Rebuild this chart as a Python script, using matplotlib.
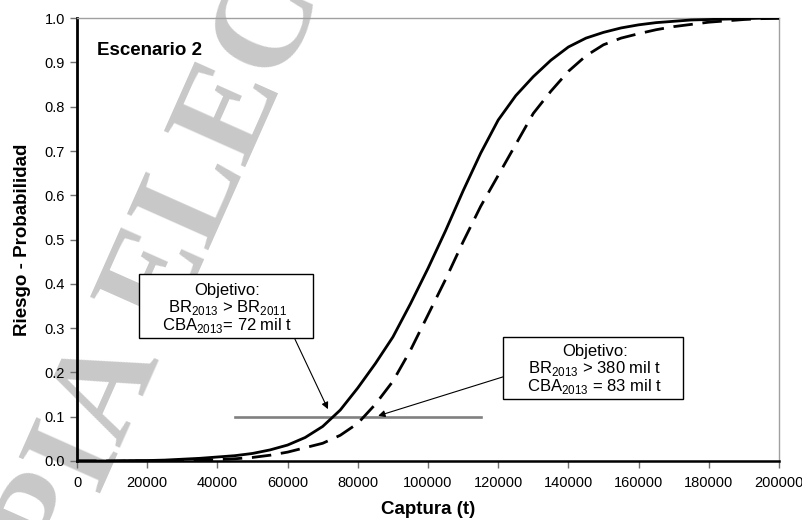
import matplotlib
matplotlib.use("Agg")
import matplotlib.pyplot as plt
from matplotlib.patches import Rectangle

plt.rcParams['font.family'] = ['Liberation Sans', 'DejaVu Sans']

# captura (t) y probabilidad de riesgo
captura = [0, 5000, 10000, 15000, 20000, 25000, 30000, 35000, 40000, 45000,
           50000, 55000, 60000, 65000, 70000, 75000, 80000, 85000, 90000, 95000,
           100000, 105000, 110000, 115000, 120000, 125000, 130000, 135000, 140000, 145000,
           150000, 155000, 160000, 165000, 170000, 175000, 180000, 185000, 190000, 195000,
           200000]
riesgo_br2011 = [0.0, 0.0, 0.0, 0.001, 0.001, 0.002, 0.004, 0.006, 0.009, 0.012,
                 0.017, 0.025, 0.036, 0.053, 0.078, 0.115, 0.165, 0.22, 0.28, 0.355,
                 0.435, 0.52, 0.61, 0.695, 0.77, 0.825, 0.868, 0.905, 0.935, 0.955,
                 0.968, 0.978, 0.985, 0.99, 0.993, 0.996, 0.997, 0.998, 0.999, 1.0,
                 1.0]
riesgo_br380 = [0.0, 0.0, 0.0, 0.0, 0.0, 0.001, 0.001, 0.002, 0.003, 0.005,
                0.008, 0.013, 0.02, 0.03, 0.04, 0.058, 0.085, 0.128, 0.18, 0.25,
                0.33, 0.41, 0.495, 0.575, 0.645, 0.715, 0.785, 0.835, 0.88, 0.915,
                0.94, 0.955, 0.965, 0.974, 0.981, 0.986, 0.991, 0.994, 0.997, 0.999,
                1.0]
nivel_x = [45000, 115000]
nivel_y = [0.1, 0.1]

fig = plt.figure(figsize=(8.03, 5.2), dpi=100)

# marca de agua
fig.text(0.315, 0.863, "COPIA ELECTRÓNICA", family=['Liberation Serif', 'DejaVu Serif'],
         fontsize=98, fontweight='bold', color='#c8c8c8', rotation=66,
         rotation_mode='anchor', ha='center', va='center', zorder=-1)

ax = fig.add_axes([0.0959, 0.1135, 0.8742, 0.8515])
ax.set_facecolor('none')

ax.plot(nivel_x, nivel_y, color='#808080', lw=1.9, zorder=2)
ax.plot(captura, riesgo_br2011, color='black', lw=2.0, zorder=3)
ax.plot(captura, riesgo_br380, color='black', lw=2.0, ls=(0, (7, 3.5)), zorder=3)

ax.set_xlim(0, 200000)
ax.set_ylim(0, 1.0)
ax.set_xticks(range(0, 200001, 20000))
ax.set_yticks([i / 10 for i in range(11)])
ax.set_yticklabels([f"{i / 10:.1f}" for i in range(11)])
ax.tick_params(axis='both', direction='out', length=5, labelsize=10.5, width=1, color='#707070')
ax.tick_params(axis='x', pad=6)

ax.spines['left'].set_linewidth(2)
ax.spines['bottom'].set_linewidth(1.8)
for s in ['top', 'right']:
    ax.spines[s].set_color('#a0a0a0')
    ax.spines[s].set_linewidth(1)

ax.set_xlabel("Captura (t)", fontsize=13.5, fontweight='bold', labelpad=8)
ax.set_ylabel("Riesgo - Probabilidad", fontsize=13.5, fontweight='bold', labelpad=10)

ax.text(5700, 0.928, "Escenario 2", fontsize=13.5, fontweight='bold', va='center')

# cuadros de texto
ax.add_patch(Rectangle((17700, 0.278), 49500, 0.144, fc='white', ec='black', lw=1, zorder=5))
ax.add_patch(Rectangle((121400, 0.140), 51200, 0.140, fc='white', ec='black', lw=1, zorder=5))
ax.text(42900, 0.343,
        "Objetivo:\n"
        r"BR$_{\mathregular{2013}}$ > BR$_{\mathregular{2011}}$" "\n"
        r"CBA$_{\mathregular{2013}}$= 72 mil t",
        fontsize=12, ha='center', va='center', linespacing=0.95, zorder=6)
ax.text(147600, 0.205,
        "Objetivo:\n"
        r"BR$_{\mathregular{2013}}$ > 380 mil t" "\n"
        r"CBA$_{\mathregular{2013}}$ = 83 mil t",
        fontsize=12, ha='center', va='center', linespacing=0.95, zorder=6)

arrow = dict(arrowstyle='-|>', color='black', lw=0.8, mutation_scale=10, shrinkA=0, shrinkB=0)
ax.annotate("", xy=(71500, 0.117), xytext=(62100, 0.275), arrowprops=arrow, zorder=4)
ax.annotate("", xy=(85800, 0.102), xytext=(121400, 0.19), arrowprops=arrow, zorder=4)

fig.savefig("out.png", dpi=100)
